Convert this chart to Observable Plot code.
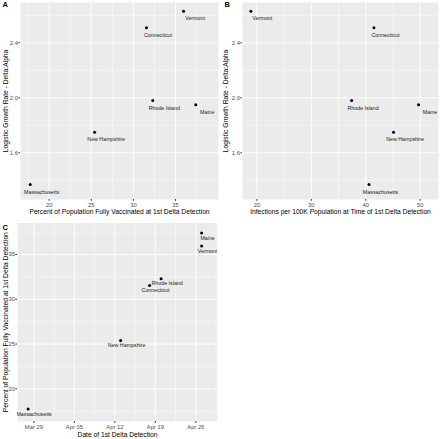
<!DOCTYPE html>
<html><head><meta charset="utf-8">
<script src="https://cdn.jsdelivr.net/npm/d3@7"></script>
<script src="https://cdn.jsdelivr.net/npm/@observablehq/plot@0.6"></script>
<style>
body{margin:0;background:#fff;}
#wrap{position:relative;width:440px;height:439px;overflow:hidden;}
#wrap > svg{position:absolute;}
</style></head><body><div id="wrap"></div>
<script>
// ---- data ----
const states = ["Massachusetts","New Hampshire","Connecticut","Vermont","Rhode Island","Maine"];
const pctVaccinated = [17.75, 25.4, 31.55, 35.95, 32.3, 37.4];
const growthRate = [1.37, 1.75, 2.51, 2.63, 1.98, 1.95];
const infectionsPer100K = [40.6, 45.1, 41.5, 18.9, 37.4, 49.7];
const firstDeltaDate = ["2021-03-28","2021-04-13","2021-04-18","2021-04-27","2021-04-20","2021-04-27"];

const ticksPct = [20, 25, 30, 35];
const ticksGrowth = [1.6, 2.0, 2.4];
const ticksInfections = [20, 30, 40, 50];
const ticksDate = ["2021-03-29","2021-04-05","2021-04-12","2021-04-19","2021-04-26"];
const ticksPctC = [20, 25, 30, 35];

const rows = states.map((s, i) => ({
  state: s,
  pct: pctVaccinated[i],
  growth: growthRate[i],
  inf: infectionsPer100K[i],
  date: new Date(firstDeltaDate[i])
}));

const FONT = '"Liberation Sans", Arial, Helvetica, sans-serif';

function mids(ticks, lo, hi, isDate) {
  const v = ticks.map(t => +t);
  const step = v[1] - v[0];
  const out = [];
  for (let x = v[0] - step / 2; x <= hi + 1e-9; x += step) if (x >= lo) out.push(isDate ? new Date(x) : x);
  return out;
}

function panel({left, top, width, height, mL, mR, mT, mB, x, y, xDomain, yDomain, xTicks, yTicks, xType, xFmt, yFmt,
                xTitle, yTitle, tag, ldx, ldy, yTitleDx, xTitleDy, tagDx, tagDy}) {
  const isDate = xType === "utc";
  const xd = xDomain.map(d => isDate ? new Date(d) : d);
  const xt = xTicks.map(d => isDate ? new Date(d) : d);
  const xMinor = mids(xt, +xd[0], +xd[1], isDate);
  const yMinor = mids(yTicks, yDomain[0], yDomain[1], false);
  const white = "#FFFFFF";
  const svg = Plot.plot({
    width, height,
    marginLeft: mL, marginRight: mR, marginTop: mT, marginBottom: mB,
    style: {fontFamily: FONT, fontSize: "5.8px", background: "transparent"},
    x: {type: xType, domain: xd},
    y: {domain: yDomain},
    marks: [
      Plot.frame({fill: "#EBEBEB", stroke: null}),
      Plot.ruleX(xMinor, {stroke: white, strokeWidth: 0.45}),
      Plot.ruleY(yMinor, {stroke: white, strokeWidth: 0.45}),
      Plot.ruleX(xt, {stroke: white, strokeWidth: 0.9}),
      Plot.ruleY(yTicks, {stroke: white, strokeWidth: 0.9}),
      Plot.axisX({ticks: xt, tickSize: 1.8, tickPadding: 1.2, stroke: "#333333", fill: "#4D4D4D",
                  label: null, tickFormat: xFmt}),
      Plot.axisY({ticks: yTicks, tickSize: 1.6, tickPadding: 1, stroke: "#333333", fill: "#4D4D4D",
                  label: null, tickFormat: yFmt}),
      Plot.dot(rows, {x, y, r: 1.5, fill: "black", stroke: null}),
      Plot.text(rows, {x, y, text: "state", dx: ldx, dy: ldy, fontSize: 5.3, fill: "#1A1A1A", clip: true}),
      Plot.text([xTitle], {text: d => d, frameAnchor: "bottom", textAnchor: "middle", lineAnchor: "middle",
                           dy: xTitleDy, fontSize: 6.7, fill: "black"}),
      Plot.text([yTitle], {text: d => d, frameAnchor: "left", textAnchor: "middle", lineAnchor: "middle",
                           dx: yTitleDx, rotate: -90, fontSize: 6.7, fill: "black"}),
      Plot.text([tag], {text: d => d, frameAnchor: "top-left", textAnchor: "start", lineAnchor: "top",
                        dx: tagDx, dy: tagDy, fontSize: 7.5, fontWeight: "bold", fill: "black"})
    ]
  });
  svg.style.left = left + "px";
  svg.style.top = top + "px";
  document.getElementById("wrap").appendChild(svg);
}

const numFmt1 = d3.format(".1f");
const yTitleGrowth = "Logistic Growth Rate - Delta:Alpha";

panel({left: 0, top: 0, width: 220, height: 220, mL: 20, mR: 2, mT: 2, mB: 21,
  x: "pct", y: "growth", xType: "linear", xDomain: [16.6, 40.1], yDomain: [1.26, 2.693],
  xTicks: ticksPct, yTicks: ticksGrowth, xFmt: d3.format("d"), yFmt: numFmt1,
  xTitle: "Percent of Population Fully Vaccinated at 1st Delta Detection", yTitle: yTitleGrowth,
  tag: "A", ldx: 11.5, ldy: 7.5, yTitleDx: -15, xTitleDy: 12.5, tagDx: -18, tagDy: -1});

panel({left: 220, top: 0, width: 220, height: 220, mL: 22, mR: 2, mT: 2, mB: 21,
  x: "inf", y: "growth", xType: "linear", xDomain: [17.36, 53.36], yDomain: [1.26, 2.693],
  xTicks: ticksInfections, yTicks: ticksGrowth, xFmt: d3.format("d"), yFmt: numFmt1,
  xTitle: "Infections per 100K Population at Time of 1st Delta Detection", yTitle: yTitleGrowth,
  tag: "B", ldx: 11.5, ldy: 7.5, yTitleDx: -16.5, xTitleDy: 12.5, tagDx: -18, tagDy: -1});

panel({left: 0, top: 220, width: 220, height: 219, mL: 17, mR: 3, mT: 2.5, mB: 18,
  x: "date", y: "pct", xType: "utc", xDomain: ["2021-03-26T04:00Z", "2021-04-29T18:00Z"], yDomain: [16.35, 38.52],
  xTicks: ticksDate, yTicks: ticksPctC, xFmt: d3.utcFormat("%b %d"), yFmt: d3.format("d"),
  xTitle: "Date of 1st Delta Detection", yTitle: "Percent of Population Fully Vaccinated at 1st Delta Detection",
  tag: "C", ldx: 6, ldy: 5, yTitleDx: -12, xTitleDy: 13, tagDx: -15, tagDy: 1.5});
</script>
</body></html>
